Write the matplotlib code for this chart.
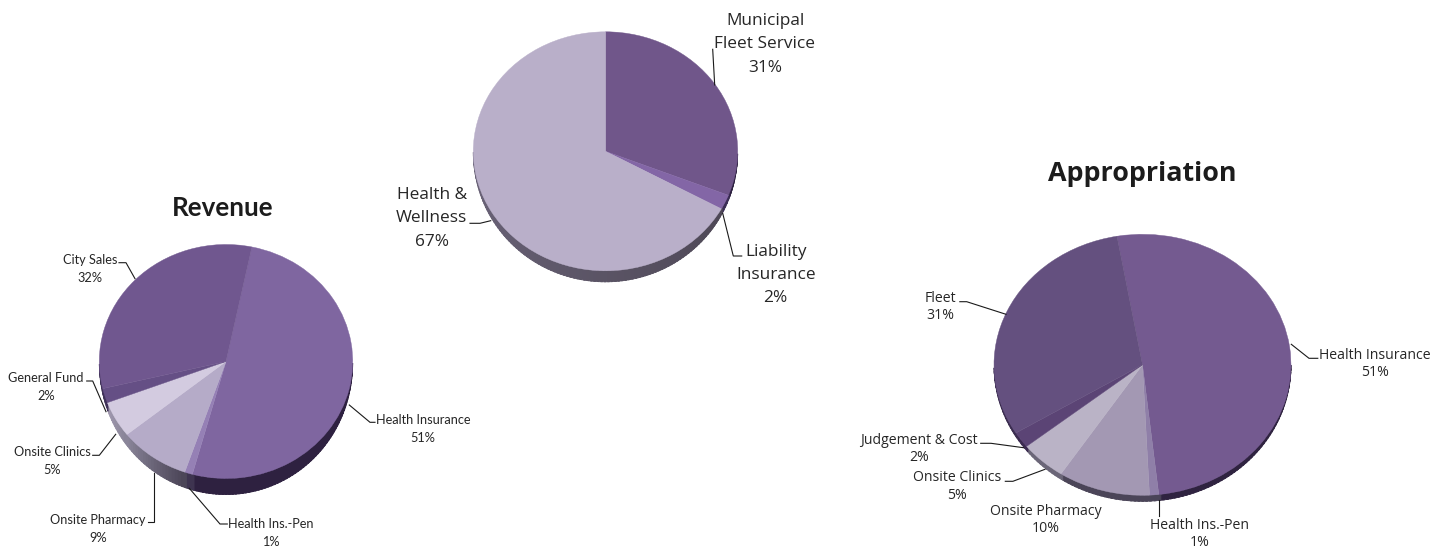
import numpy as np
import matplotlib
matplotlib.use("Agg")
import matplotlib.pyplot as plt
from matplotlib.colors import to_rgb
from matplotlib.patches import Polygon

W, H = 1443, 550

# ---- data ----
revenue_labels = ["Health Insurance", "Health Ins.-Pen", "Onsite Pharmacy", "Onsite Clinics", "General Fund", "City Sales"]
revenue_values = [51, 1, 9, 5, 2, 32]
middle_labels = ["Municipal\nFleet Service", "Liability\nInsurance", "Health &\nWellness"]
middle_values = [31, 2, 67]
approp_labels = ["Health Insurance", "Health Ins.-Pen", "Onsite Pharmacy", "Onsite Clinics", "Judgement & Cost", "Fleet"]
approp_values = [51, 1, 10, 5, 2, 31]

# ---- styles ----
revenue_faces = ["#7F66A0", "#9580B5", "#B5ABC8", "#D3CBE0", "#654F85", "#70578F"]
revenue_sides = [("#2E2140", "#2E2140"), ("#3E3450", "#3E3450"), ("#4C4658", "#8A8599"),
                 ("#8A8599", "#A29AB0"), ("#3F3158", "#3F3158"), ("#3F3158", "#3F3158")]
middle_faces = ["#70568A", "#8366A6", "#B9AFC9"]
middle_sides = [("#2D2140", "#2D2140"), ("#3B2D55", "#3B2D55"), ("#4E4856", "#7E7690")]
approp_faces = ["#745A90", "#8F7FA8", "#A398B3", "#BAB3C6", "#5B4475", "#64507F"]
approp_sides = [("#2F2340", "#2F2340"), ("#4A4458", "#4A4458"), ("#4B4558", "#4B4558"),
                ("#6B6678", "#6B6678"), ("#3B2A50", "#3B2A50"), ("#3B2D50", "#3B2D50")]


def draw_pie(fig, values, faces, sides, cx, cy, rx, ry, depth, start):
    ax = fig.add_axes([(cx - rx) / W, 1 - (cy + ry) / H, 2 * rx / W, 2 * ry / H])
    edges = start - np.cumsum([0] + list(values)) * 3.6
    d = depth / ry
    for i in range(len(values)):
        a1, a0 = edges[i], edges[i + 1]
        angs = np.linspace(a0, a1, max(2, int((a1 - a0) / 1.5) + 1))
        c0, c1 = np.array(to_rgb(sides[i][1])), np.array(to_rgb(sides[i][0]))
        for j in range(len(angs) - 1):
            th = np.radians(np.linspace(angs[j], angs[j + 1] + 0.8, 4))
            s = np.sin(th)
            if s.mean() >= -0.02:
                continue
            x, y = np.cos(th), s
            low = y - d * np.clip(-s, 0, 1) ** 0.8
            pts = np.r_[np.c_[x, y], np.c_[x[::-1], low[::-1]]]
            t = j / max(1, len(angs) - 2)
            col = c0 + (c1 - c0) * t
            ax.add_patch(Polygon(pts, closed=True, facecolor=col, edgecolor=col, lw=0.6,
                                 clip_on=False, zorder=1))
    wedges, _ = ax.pie(values, colors=faces, startangle=start, counterclock=False, radius=1,
                       wedgeprops=dict(linewidth=0.3, zorder=2))
    for w, f in zip(wedges, faces):
        w.set_edgecolor(f)
    ax.set_aspect("auto")
    ax.set_xlim(-1, 1)
    ax.set_ylim(-1, 1)
    ax.axis("off")


fig = plt.figure(figsize=(W / 100, H / 100), dpi=100, facecolor="white")

draw_pie(fig, revenue_values, revenue_faces, revenue_sides, 226, 361.5, 126.7, 117, 16, 78.2)
draw_pie(fig, middle_values, middle_faces, middle_sides, 605.5, 151.3, 132.2, 119.5, 11, 90)
draw_pie(fig, approp_values, approp_faces, approp_sides, 1142.5, 364.8, 148.5, 130.5, 6, 99.9)

# overlay in pixel coordinates for labels and leader lines
ov = fig.add_axes([0, 0, 1, 1], zorder=5)
ov.set_xlim(0, W)
ov.set_ylim(H, 0)
ov.axis("off")


def put_labels(labels, values, xs, ys, leaders, font, size, color, spacing):
    for lab, v, x, y, ld in zip(labels, values, xs, ys, leaders):
        txt = f"{lab}\n{v}%"
        ov.text(x, y, txt, ha="center", va="center", family=font, fontsize=size, color=color,
                linespacing=spacing)
        if ld:
            p = np.array(ld)
            ov.plot(p[:, 0], p[:, 1], color="#1a1a1a", lw=0.8, solid_joinstyle="miter")


put_labels(revenue_labels, revenue_values,
           [423, 271, 98, 52, 46, 90],
           [428.5, 533, 528.5, 460.5, 386.5, 269],
           [[(349.3, 405), (370, 422.3), (375, 422.3)],
            [(189.3, 488.3), (220, 524), (227.3, 524)],
            [(147.7, 522), (154.3, 522), (154.3, 473.3)],
            [(92.7, 455.3), (99.3, 455.3), (115.7, 434.3)],
            [(86.7, 381), (92.7, 381), (106, 411.7)],
            [(119, 262.7), (126, 262.7), (135, 278.7)]],
           "Lato", 9.2, "#262626", 1.6)

put_labels(middle_labels, middle_values,
           [765, 775.7, 431.7],
           [44.5, 275, 218.5],
           [[(712.7, 49.3), (714.7, 85)],
            [(722.7, 213.3), (733.3, 256), (741.7, 256)],
            [(470, 223.3), (480, 223.3), (490.7, 220.7)]],
           "Open Sans", 12.4, "#262626", 1.6)

put_labels(approp_labels, approp_values,
           [1375, 1200, 1046, 957, 919, 940],
           [364, 534, 520, 486.5, 449, 307],
           [[(1291.3, 344.3), (1309, 358.3), (1317.8, 358.3)],
            [(1158.7, 500), (1158.7, 516)],
            None,
            [(1005.3, 481.3), (1012.9, 481.3), (1045, 469.3)],
            [(980.7, 443.3), (991, 443.3), (1023.5, 447.7)],
            [(959.8, 301.7), (966.7, 301.7), (1006, 314.3)]],
           "Open Sans", 10.1, "#262626", 1.27)

ov.text(222.5, 208, "Revenue", ha="center", va="center", family="Lato", fontweight="bold",
        fontsize=18.7, color="#1c1c1c")
ov.text(1142.5, 174, "Appropriation", ha="center", va="center", family="Open Sans", fontweight="bold",
        fontsize=19.4, color="#1c1c1c")

fig.savefig("out.png", dpi=100, facecolor="white")
